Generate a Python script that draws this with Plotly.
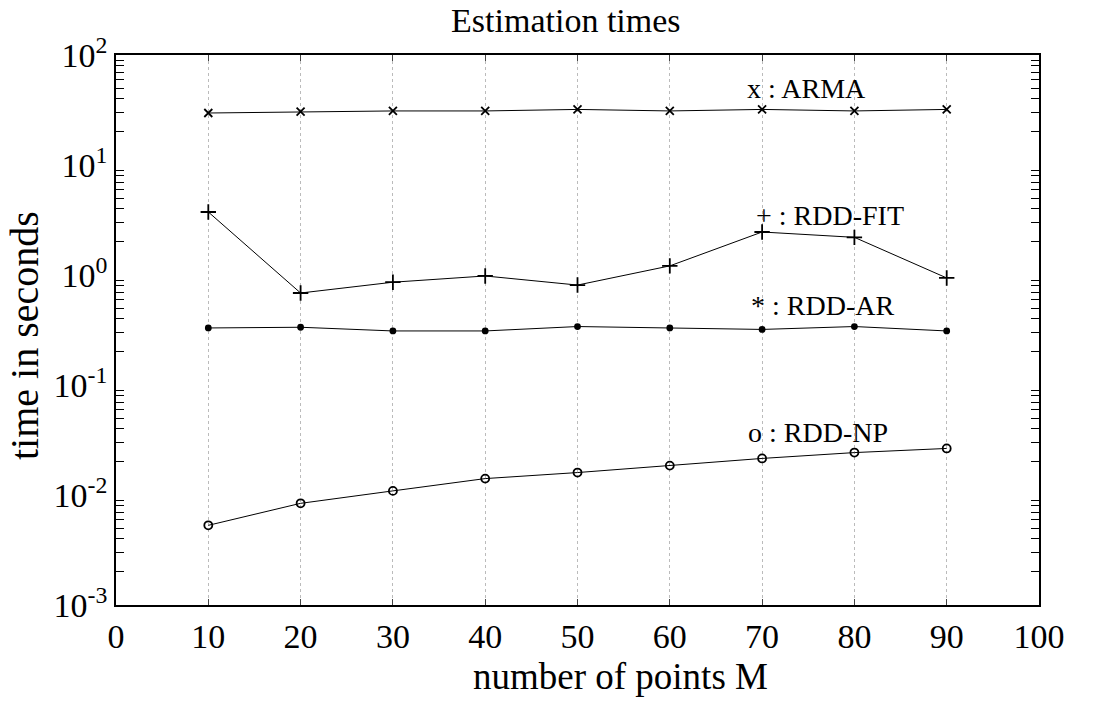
import math
import plotly.graph_objects as go

M = [10, 20, 30, 40, 50, 60, 70, 80, 90]
arma = [29.7, 30.5, 31.0, 31.0, 32.0, 31.0, 32.0, 31.0, 32.0]
rdd_fit = [3.74, 0.686, 0.86, 0.98, 0.81, 1.21, 2.46, 2.2, 0.94]
rdd_ar = [0.33, 0.335, 0.31, 0.31, 0.34, 0.33, 0.32, 0.34, 0.31]
rdd_np = [0.0053, 0.0084, 0.0109, 0.0141, 0.0160, 0.0185, 0.0215, 0.0243, 0.0265]

labels = ["x : ARMA", "+ : RDD-FIT", "* : RDD-AR", "o : RDD-NP"]
label_x = [74.8, 77.4, 76.5, 76.1]
label_y = [50, 3.45, 0.53, 0.0367]

xticks = [0, 10, 20, 30, 40, 50, 60, 70, 80, 90, 100]
yticks = [1e-3, 1e-2, 1e-1, 1, 10, 100]
yticktext = ["10<sup>-3</sup>", "10<sup>-2</sup>", "10<sup>-1</sup>", "10<sup>0</sup>", "10<sup>1</sup>", "10<sup>2</sup>"]
yminor = [k * 10.0 ** d for d in range(-3, 2) for k in range(2, 10)]

font = "Liberation Serif, Times New Roman, serif"
fig = go.Figure()
series = [(arma, "x-thin-open"), (rdd_fit, "cross-thin-open"), (rdd_ar, "circle"), (rdd_np, "circle-open")]
sizes = [8, 11, 5, 8]
for (vals, sym), sz in zip(series, sizes):
    fig.add_trace(go.Scatter(x=M, y=vals, mode="lines+markers",
                             line=dict(color="black", width=1),
                             marker=dict(symbol=sym, size=sz, color="black",
                                         line=dict(color="black", width=1.8)),
                             showlegend=False))

for t, x, y in zip(labels, label_x, label_y):
    fig.add_annotation(x=x, y=math.log10(y), yref="y", xref="x", text=t, showarrow=False,
                       font=dict(family=font, size=28, color="black"))

# axis titles as annotations for exact placement
fig.add_annotation(x=(620 - 116) / 923, y=(605 - 676) / 550, xref="paper", yref="paper",
                   xanchor="center", yanchor="middle",
                   text="number of points M", showarrow=False,
                   font=dict(family=font, size=37, color="black"))
fig.add_annotation(x=(24 - 116) / 923, y=(605 - 336) / 550, xref="paper", yref="paper",
                   xanchor="center", yanchor="middle",
                   text="time in seconds", showarrow=False, textangle=-90,
                   font=dict(family=font, size=40, color="black"))

fig.update_layout(
    width=1103, height=703,
    margin=dict(l=116, r=64, t=55, b=98),
    paper_bgcolor="white", plot_bgcolor="white",
    title=dict(text="Estimation times", x=0.513, xanchor="center", y=0.972, yanchor="middle",
               font=dict(family=font, size=34, color="black")),
    font=dict(family=font, color="black"),
)
fig.update_xaxes(range=[0, 100], tickvals=xticks, ticks="inside", ticklen=6,
                 showline=True, linecolor="black", linewidth=1.5, mirror="ticks",
                 showgrid=True, gridcolor="#bbb", griddash="dot", gridwidth=1,
                 zeroline=False, automargin=False,
                 tickfont=dict(family=font, size=34, color="black"))
fig.update_yaxes(type="log", range=[-3, 2], tickvals=yticks, ticktext=yticktext,
                 ticks="inside", ticklen=0,
                 showline=True, linecolor="black", linewidth=1.5, mirror="ticks",
                 showgrid=False, zeroline=False, automargin=False,
                 minor=dict(ticks="inside", ticklen=8, tickcolor="black", tickvals=yminor, showgrid=False),
                 tickfont=dict(family=font, size=34, color="black"))

fig.write_html("out.html")
